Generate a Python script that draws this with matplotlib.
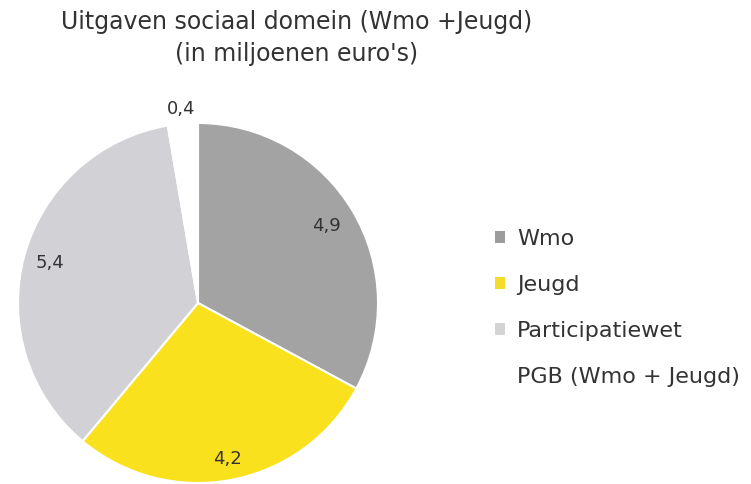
import numpy as np
import matplotlib
matplotlib.use("Agg")
import matplotlib.pyplot as plt
import matplotlib.patches as mpatches

categories = ["Wmo", "Jeugd", "Participatiewet", "PGB (Wmo + Jeugd)"]
values = [4.9, 4.2, 5.4, 0.4]
value_labels = ["4,9", "4,2", "5,4", "0,4"]
colors = ["#a3a3a3", "#f9e11e", "#d2d2d6", "#ffffff"]
legend_colors = ["#9c9c9c", "#f4dc2c", "#d4d4d4", "#ffffff"]
label_dist = [0.83, 0.88, 0.85, 1.08]

plt.rcParams["font.family"] = ["DejaVu Sans"]
TEXT = "#333333"
W, H = 751, 484

fig = plt.figure(figsize=(W / 100, H / 100), dpi=100)
# pie centre ~ (198, 303) px, radius ~180 px
cx, cy, r = 198, 303, 180
ax = fig.add_axes([(cx - r) / W, (H - cy - r) / H, 2 * r / W, 2 * r / H])
wedges, _ = ax.pie(values, colors=colors, startangle=90, counterclock=False,
                   wedgeprops=dict(edgecolor="white", linewidth=1.5))
ax.set_xlim(-1, 1)
ax.set_ylim(-1, 1)
ax.set_aspect("equal")

for w, lab, d in zip(wedges, value_labels, label_dist):
    mid = np.deg2rad((w.theta1 + w.theta2) / 2)
    ax.text(d * np.cos(mid), d * np.sin(mid), lab, ha="center", va="center",
            fontsize=13, color=TEXT)

fig.text(297 / W, 1 - 38 / H, "Uitgaven sociaal domein (Wmo +Jeugd)\n(in miljoenen euro's)",
         ha="center", va="center", fontsize=17, color=TEXT, linespacing=1.45)

handles = [mpatches.Patch(facecolor=c, edgecolor="none", label=n)
           for c, n in zip(legend_colors, categories)]
fig.legend(handles=handles, loc="upper left", bbox_to_anchor=(495 / W, 1 - 229 / H),
           frameon=False, fontsize=16, handlelength=0.45, handleheight=0.45,
           handletextpad=0.55, labelspacing=1.17, labelcolor=TEXT,
           borderpad=0, borderaxespad=0)

fig.savefig("out.png", dpi=100)
